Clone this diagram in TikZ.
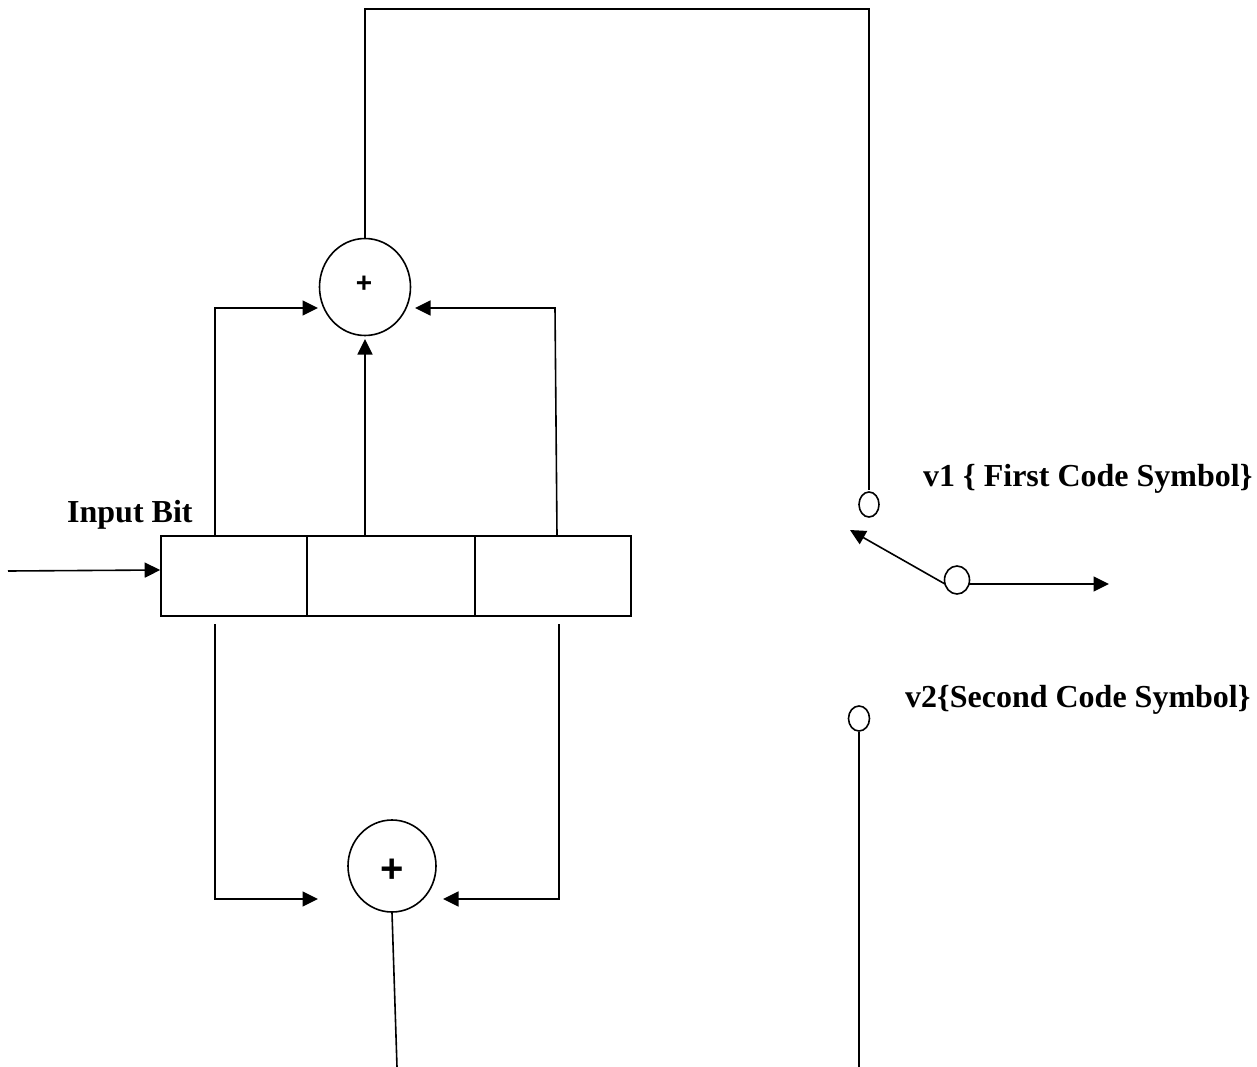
\documentclass[tikz,border=0pt]{standalone}
\usepackage{fontspec}
\setmainfont{Liberation Serif}
\setsansfont{Liberation Sans}
\usetikzlibrary{arrows.meta,shapes.geometric}
\begin{document}
\begin{tikzpicture}[
  x=1pt, y=-1pt,
  wire/.style={draw=black, line width=1.6pt},
  flow/.style={wire, -{Triangle[length=15.5pt,width=15pt]}},
  regcell/.style={rectangle, draw=black, line width=1.6pt, minimum height=80pt, inner sep=0pt},
  adder/.style={ellipse, draw=black, line width=1.6pt, inner sep=0pt},
  contact/.style={ellipse, draw=black, line width=1.6pt, inner sep=0pt},
  tag/.style={font=\fontsize{32}{36}\selectfont\bfseries, inner sep=0pt, anchor=base west},
]
\useasboundingbox (0,0) rectangle (1257,1067);

\node[regcell, minimum width=146pt] (r1) at (234,576) {};
\node[regcell, minimum width=168pt] (r2) at (391,576) {};
\node[regcell, minimum width=156pt] (r3) at (553,576) {};

\node[adder, minimum width=91pt, minimum height=97pt] (a1) at (365,287) {};
\node[font=\sffamily\bfseries\fontsize{28}{32}\selectfont, inner sep=0pt] (p1) at (364,284) {+};
\node[adder, minimum width=88pt, minimum height=92pt] (a2) at (392,866) {};
\node[font=\sffamily\bfseries\fontsize{40}{44}\selectfont, inner sep=0pt] (p2) at (392,871) {+};

\node[contact, minimum width=20pt, minimum height=25pt] (c1) at (869,504.5) {};
\node[contact, minimum width=25pt, minimum height=28pt] (c0) at (957,580) {};
\node[contact, minimum width=21pt, minimum height=25pt] (c2) at (859,718.5) {};

\coordinate (in) at (8,571);
\coordinate (out) at (1109,584);
\coordinate (sw) at (850,530);
\coordinate (b1) at (397,1067);
\coordinate (b2) at (859,1067);
\coordinate (l2) at (318,899);

% input
\draw[flow] (in) -- ([yshift=6pt]r1.west);
\node[tag] (lb0) at (67,522) {Input Bit};

% top adder
\draw[flow] (215,536) -- (215,308) -- (318,308);
\draw[flow] (365,536) -- (365,339);
\draw[flow] (557,536) -- (555,308) -- (415,308);
\draw[wire] (a1.north) -- (365,9) -- (869,9) -- (869,490);

% bottom adder
\draw[flow] (215,624) -- (215,899) -- (l2);
\draw[flow] (559,624) -- (559,899) -- (443,899);
\draw[wire] (a2.south) -- (b1);

% switch
\draw[flow] (945,584) -- (sw);
\draw[flow] (969,584) -- (out);
\draw[wire] (c2.south) -- (b2);

\node[tag] (lb1) at (923,486) {v1 \{ First Code Symbol\}};
\node[tag] (lb2) at (905,707) {v2\{Second Code Symbol\}};
\end{tikzpicture}
\end{document}
